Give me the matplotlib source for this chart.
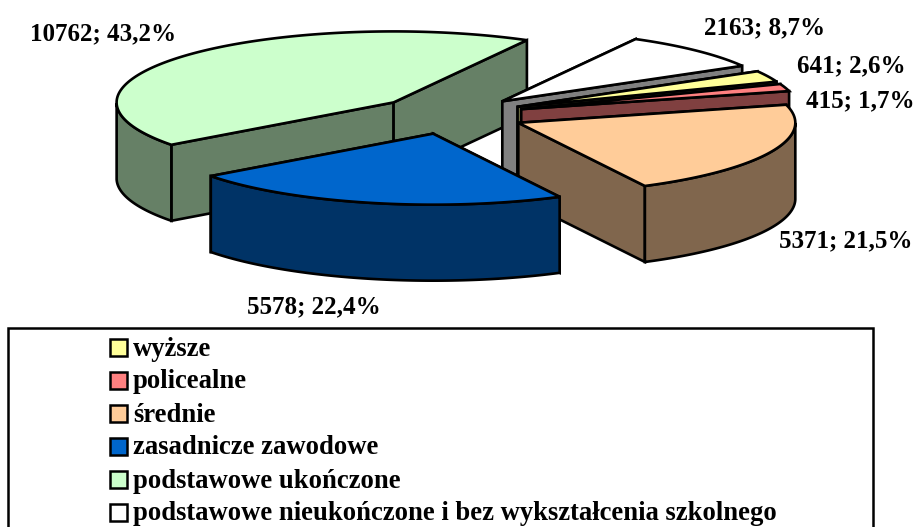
import numpy as np
import matplotlib
matplotlib.use('Agg')
import matplotlib.pyplot as plt
from matplotlib.patches import Rectangle

plt.rcParams['font.family'] = ['Liberation Serif', 'DejaVu Serif']
plt.rcParams['font.weight'] = 'bold'

# data, in the order of the pie (clockwise)
categories = ['wyższe', 'policealne', 'średnie', 'zasadnicze zawodowe',
              'podstawowe ukończone',
              'podstawowe nieukończone i bez wykształcenia szkolnego']
values = [641, 415, 5371, 5578, 10762, 2163]
colors = ['#FFFF99', '#FF8080', '#FFCC99', '#0066CC', '#CCFFCC', '#FFFFFF']

# where each value label sits (pixels, left edge and middle of the text)
label_pos = [(797, 66), (806, 101), (779, 241), (247, 307), (30, 34), (704, 28)]

# pie geometry in pixels
cx, cy = 450, 115
rx, ry = 277, 71
depth = 76
explode = 0.27
start_angle = 30
lw = 1.9

fig = plt.figure(figsize=(9.15, 5.27), dpi=100)
ax = fig.add_axes([0, 0, 1, 1])
ax.set_xlim(0, 915)
ax.set_ylim(527, 0)
ax.set_axis_off()

total = sum(values)
spans = [v / total * 360 for v in values]
starts = start_angle - np.concatenate([[0], np.cumsum(spans)[:-1]])


def rim(x0, y0, t):
    t = np.radians(t)
    return x0 + rx * np.cos(t), y0 - ry * np.sin(t)


def darker(c):
    rgb = np.array(matplotlib.colors.to_rgb(c))
    return tuple(rgb * 0.5)


# painting order: green at the very back, blue goes last
order = [4, 5, 0, 1, 2, 3]
for i in order:
    t0 = starts[i]
    t1 = t0 - spans[i]
    mid = np.radians((t0 + t1) / 2)
    x0 = cx + explode * rx * np.cos(mid)
    y0 = cy - explode * ry * np.sin(mid)
    side = darker(colors[i])

    # the two cut faces
    for t in (t0, t1):
        xe, ye = rim(x0, y0, t)
        ax.fill([x0, xe, xe, x0], [y0, ye, ye + depth, y0 + depth],
                facecolor=side, edgecolor='black', lw=lw)

    # outer wall, only the part that faces the viewer
    ts = np.linspace(t0, t1, 200)
    ts = ts[np.sin(np.radians(ts)) <= 0]
    if len(ts) > 1:
        xs, ys = rim(x0, y0, ts)
        ax.fill(np.r_[xs, xs[::-1]], np.r_[ys, ys[::-1] + depth],
                facecolor=side, edgecolor='black', lw=lw)

    # top of the wedge
    ts = np.linspace(t0, t1, 200)
    xs, ys = rim(x0, y0, ts)
    ax.fill(np.r_[x0, xs], np.r_[y0, ys], facecolor=colors[i],
            edgecolor='black', lw=lw)

# value labels
for v, (lx, ly) in zip(values, label_pos):
    pct = f'{v / total * 100:.1f}'.replace('.', ',')
    ax.text(lx, ly, f'{v}; {pct}%', fontsize=18, ha='left', va='center')

# legend box runs off the bottom of the picture
ax.add_patch(Rectangle((8, 328), 865, 230, facecolor='white', edgecolor='black', lw=1.8))
leg_y = [348, 381, 414, 447, 480, 513]
for name, c, y in zip(categories, colors, leg_y):
    ax.add_patch(Rectangle((110, y - 9), 17, 17, facecolor=c, edgecolor='black', lw=1.8))
    ax.text(133, y + 1, name, fontsize=19.2, ha='left', va='center')

plt.savefig('out.png', dpi=100)
